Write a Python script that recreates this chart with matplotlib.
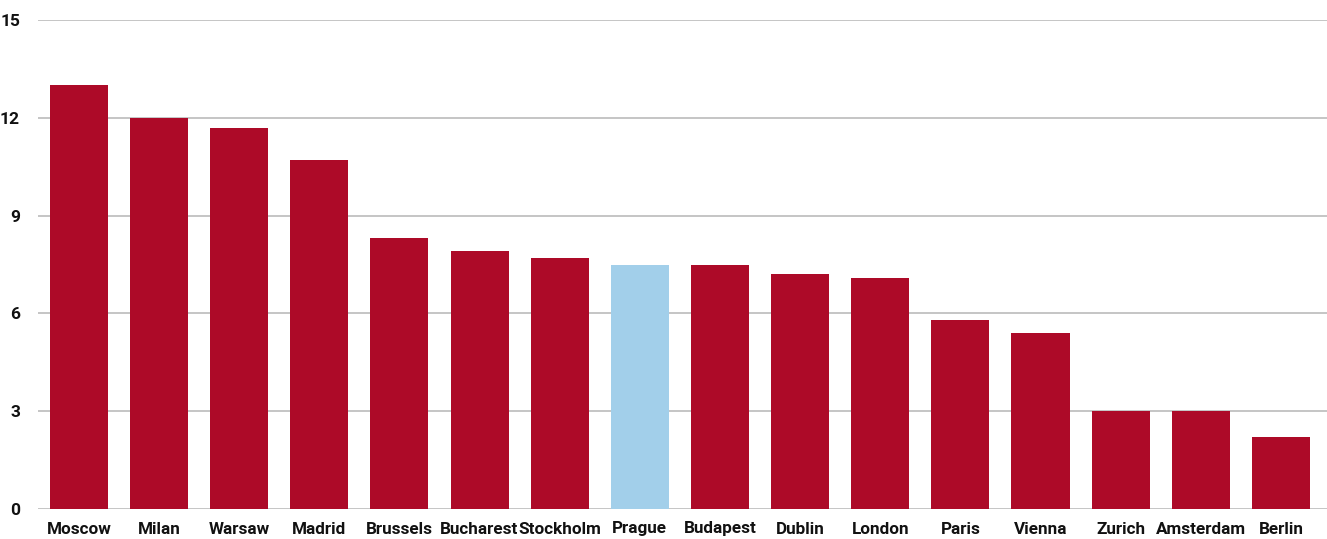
import matplotlib.pyplot as plt

cities = ['Moscow', 'Milan', 'Warsaw', 'Madrid', 'Brussels', 'Bucharest',
          'Stockholm', 'Prague', 'Budapest', 'Dublin', 'London', 'Paris',
          'Vienna', 'Zurich', 'Amsterdam', 'Berlin']
values = [13.0, 12.0, 11.7, 10.7, 8.3, 7.9, 7.7, 7.5, 7.5, 7.2, 7.1, 5.8,
          5.4, 3.0, 3.0, 2.2]
highlight = 'Prague'

RED = '#ad0a28'
BLUE = '#a2cfea'

plt.rcParams['font.family'] = ['Roboto', 'DejaVu Sans']

fig = plt.figure(figsize=(13.27, 5.39), dpi=100)
ax = fig.add_axes([38 / 1327, 1 - 509 / 539, 1 - 38 / 1327, 489 / 539])

colors = [BLUE if c == highlight else RED for c in cities]
ax.bar(range(len(cities)), values, width=0.725, color=colors, zorder=3)

ax.set_ylim(0, 15)
ax.set_xlim(-0.51, len(cities) - 1 + 0.575)
ax.set_yticks([0, 3, 6, 9, 12, 15])
ax.set_xticks(range(len(cities)))
ax.set_xticklabels(cities, fontsize=12.3, fontweight='bold', color='#111111')
for lbl in ax.get_yticklabels():
    lbl.set_fontsize(12.5)
    lbl.set_fontweight('bold')
    lbl.set_color('#111111')

ax.tick_params(axis='y', length=0, pad=13)
ax.tick_params(axis='x', length=0, pad=9)
ax.grid(axis='y', color='#bbbbbb', linewidth=1.2, zorder=0)
for s in ax.spines.values():
    s.set_visible(False)

fig.savefig('out.png', dpi=100)
